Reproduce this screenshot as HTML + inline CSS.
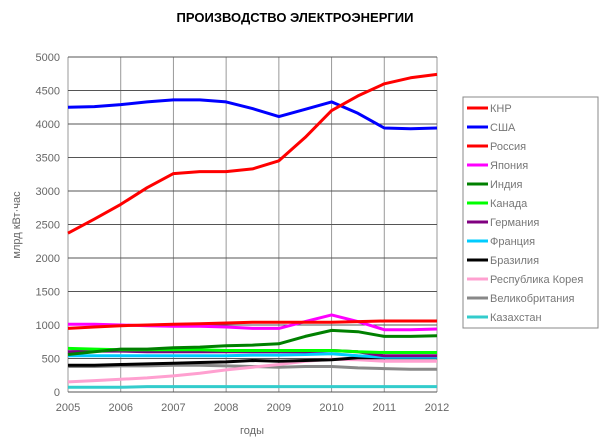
<!DOCTYPE html>
<html><head><meta charset="utf-8"><style>
body{margin:0;background:#fff;width:603px;height:443px;overflow:hidden;font-family:"Liberation Sans",sans-serif}
</style></head><body>
<svg width="603" height="443" id="svg">
<text x="295" y="22" text-anchor="middle" font-size="13" font-weight="bold" fill="#000">ПРОИЗВОДСТВО ЭЛЕКТРОЭНЕРГИИ</text>
<text x="20" y="225" transform="rotate(-90 20 225)" text-anchor="middle" font-size="11" fill="#666">млрд кВт·час</text>
<text x="252" y="434" text-anchor="middle" font-size="11" fill="#666">годы</text>
<g id="grid"></g><g id="series"></g>
<rect x="463" y="97" width="135" height="231" fill="#fff" stroke="#888"/>
<g id="legend"></g>
</svg>
<script>
const years=[2005,2006,2007,2008,2009,2010,2011,2012];
const yTicks=[0,500,1000,1500,2000,2500,3000,3500,4000,4500,5000];
const xs=[2005,2005.5,2006,2006.5,2007,2007.5,2008,2008.5,2009,2009.5,2010,2010.5,2011,2011.5,2012];
const names=["КНР","США","Россия","Япония","Индия","Канада","Германия","Франция","Бразилия","Республика Корея","Великобритания","Казахстан"];
const colors=["#ff0000","#0000ff","#ff0000","#ff00ff","#008000","#00ff00","#800080","#00ccff","#000000","#ffa0d0","#888888","#33cccc"];
const sChina=[2370,2580,2800,3050,3260,3290,3290,3330,3450,3800,4200,4420,4600,4690,4740];
const sUSA=[4250,4260,4290,4330,4360,4360,4330,4230,4110,4220,4330,4160,3940,3930,3940];
const sRussia=[950,970,990,1000,1010,1020,1030,1040,1040,1040,1040,1050,1060,1060,1060];
const sJapan=[1010,1010,1000,990,980,980,970,950,950,1050,1150,1050,930,930,940];
const sIndia=[560,600,640,640,660,670,690,700,720,830,920,900,830,830,840];
const sCanada=[650,640,630,630,630,630,620,620,620,620,620,600,590,590,590];
const sGermany=[600,610,610,600,600,600,600,600,600,600,620,600,540,540,540];
const sFrance=[540,540,540,540,540,540,540,550,550,560,570,540,520,520,520];
const sBrazil=[400,400,410,420,430,440,450,470,460,470,480,510,510,510,510];
const sKorea=[150,170,190,210,240,280,330,370,410,460,490,480,460,460,460];
const sUK=[380,380,390,390,400,400,390,380,370,380,380,360,350,340,340];
const sKaz=[70,70,70,80,80,80,80,80,80,80,80,80,80,80,80];
const series=[sChina,sUSA,sRussia,sJapan,sIndia,sCanada,sGermany,sFrance,sBrazil,sKorea,sUK,sKaz];
const X=v=>68+(v-2005)*(437-68)/7, Y=v=>392-v*(392-57)/5000;
const NS="http://www.w3.org/2000/svg";
function mk(t,a,p){const e=document.createElementNS(NS,t);for(const k in a)e.setAttribute(k,a[k]);p.appendChild(e);return e;}
const g=document.getElementById('grid');
years.forEach(y=>{const l=mk('line',{x1:X(y),x2:X(y),y1:57,y2:392,stroke:'#999','stroke-width':1},g);


const t=mk('text',{x:X(y),y:411,'text-anchor':'middle','font-size':11,fill:'#666'},g);t.textContent=y;

});
yTicks.forEach(v=>{const l=mk('line',{x1:68,x2:437,y1:Y(v),y2:Y(v),stroke:'#555','stroke-width':1},g);


const t=mk('text',{x:60,y:Y(v)+4,'text-anchor':'end','font-size':11,fill:'#666'},g);t.textContent=v;

});
const sg=document.getElementById('series');
for(let i=series.length-1;i>=0;i--){
 const d=series[i].map((v,j)=>(j?'L':'M')+X(xs[j]).toFixed(1)+','+Y(v).toFixed(1)).join('');
 const p=mk('path',{d:d,fill:'none',stroke:colors[i],'stroke-width':3,'stroke-linejoin':'round'},sg);
 
 
}
const lg=document.getElementById('legend');
names.forEach((n,i)=>{const y=108+i*19;
 const l=mk('line',{x1:467,x2:488,y1:y,y2:y,stroke:colors[i],'stroke-width':3},lg);
 
 
 const t=mk('text',{x:490,y:y+4,'font-size':11,fill:'#777'},lg);t.textContent=n;
 
 
});
</script>
</body></html>
